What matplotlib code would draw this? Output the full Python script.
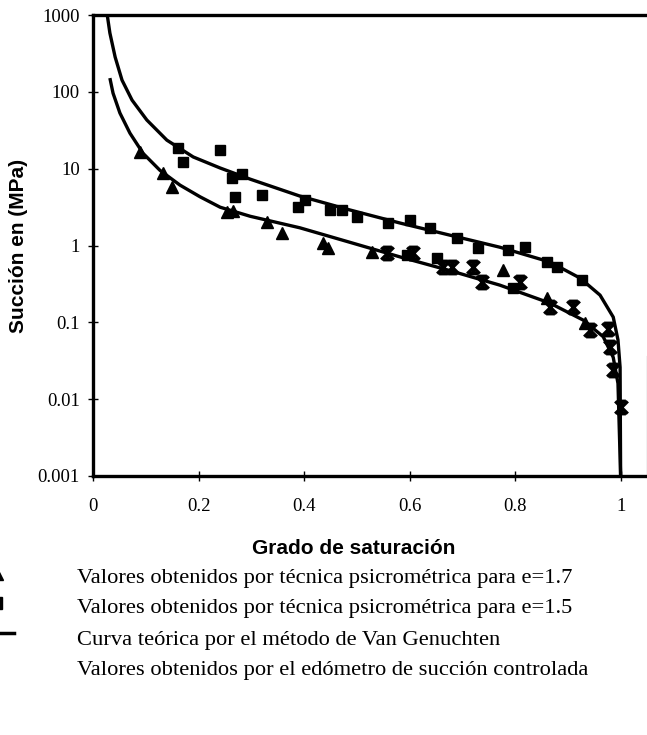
import numpy as np
import matplotlib
matplotlib.use('Agg')
import matplotlib.pyplot as plt
from matplotlib.path import Path
from matplotlib.lines import Line2D

# curvas teoricas (Van Genuchten)
curva_sup_S = [0.027, 0.032, 0.042, 0.055, 0.074, 0.102, 0.140, 0.190, 0.241, 0.298, 0.392, 0.487,
               0.582, 0.677, 0.771, 0.866, 0.923, 0.961, 0.986, 0.995, 0.999, 1.0]
curva_sup_psi = [1000, 583, 283, 142, 78, 43, 23.5, 14.2, 10.2, 7.3, 4.4, 2.9,
                 1.96, 1.36, 0.95, 0.61, 0.377, 0.226, 0.117, 0.059, 0.026, 0.001]
curva_inf_S = [0.032, 0.038, 0.051, 0.070, 0.095, 0.127, 0.165, 0.203, 0.241, 0.298, 0.392, 0.487,
               0.582, 0.677, 0.771, 0.866, 0.929, 0.967, 0.986, 0.995, 1.0]
curva_inf_psi = [151, 96, 53, 29, 15.8, 9.5, 6.1, 4.3, 3.15, 2.4, 1.7, 1.1,
                 0.71, 0.47, 0.305, 0.178, 0.107, 0.065, 0.035, 0.016, 0.001]

# e=1.7 (triangulos)
tri_S = [0.089, 0.133, 0.150, 0.254, 0.265, 0.330, 0.358, 0.436, 0.445, 0.529, 0.777, 0.860, 0.933]
tri_psi = [16.4, 8.8, 5.8, 2.7, 2.8, 2.0, 1.44, 1.07, 0.93, 0.82, 0.48, 0.21, 0.098]

# e=1.5 (cuadrados)
cua_S = [0.161, 0.171, 0.241, 0.263, 0.282, 0.269, 0.320, 0.389, 0.402, 0.449, 0.472, 0.500,
         0.560, 0.600, 0.639, 0.690, 0.730, 0.787, 0.819, 0.860, 0.880, 0.927, 0.652, 0.595, 0.796]
cua_psi = [18.5, 12.2, 17.5, 7.6, 8.5, 4.3, 4.5, 3.2, 3.9, 2.9, 2.9, 2.35,
           1.96, 2.14, 1.68, 1.25, 0.92, 0.87, 0.95, 0.61, 0.53, 0.36, 0.69, 0.75, 0.28]

# edometro de succion controlada (asteriscos)
ast_S = [0.557, 0.607, 0.664, 0.680, 0.720, 0.737, 0.809, 0.866, 0.910, 0.942, 0.976, 0.980, 0.986, 1.0]
ast_psi = [0.79, 0.79, 0.52, 0.52, 0.52, 0.33, 0.33, 0.16, 0.16, 0.079, 0.083, 0.048, 0.024, 0.008]

y_ticks = [0.001, 0.01, 0.1, 1, 10, 100, 1000]
y_labels = ['0.001', '0.01', '0.1', '1', '10', '100', '1000']
x_ticks = [0, 0.2, 0.4, 0.6, 0.8, 1]
x_labels = ['0', '0.2', '0.4', '0.6', '0.8', '1']

leyenda = ['Valores obtenidos por técnica psicrométrica para e=1.7',
           'Valores obtenidos por técnica psicrométrica para e=1.5',
           'Curva teórica por el método de Van Genuchten',
           'Valores obtenidos por el edómetro de succión controlada']

# marcador tipo asterisco de excel
ast_marker = Path([(-1, -1), (1, 1), (-1, 1), (1, -1), (0, -1), (0, 1),
                   (-0.7, 1), (0.7, 1), (-0.7, -1), (0.7, -1)],
                  [Path.MOVETO, Path.LINETO] * 5)

serif = 'Liberation Serif'
sans = 'Liberation Sans'

fig = plt.figure(figsize=(6.47, 7.35), dpi=100)
ax = fig.add_axes([93 / 647, 1 - 476 / 735, 554 / 647, 461 / 735])

ax.plot(curva_sup_S, curva_sup_psi, color='black', lw=2.4, solid_capstyle='butt')
ax.plot(curva_inf_S, curva_inf_psi, color='black', lw=2.4, solid_capstyle='butt')
ax.plot(tri_S, tri_psi, ls='none', marker='^', ms=9, color='black')
ax.plot(cua_S, cua_psi, ls='none', marker='s', ms=7.5, color='black')
ax.plot(ast_S, ast_psi, ls='none', marker=ast_marker, ms=9, mew=2.4, color='black')

ax.set_yscale('log')
ax.set_ylim(0.001, 1000)
ax.set_xlim(0, 1.05)
ax.set_yticks(y_ticks)
ax.set_yticklabels(y_labels, fontfamily=serif, fontsize=13.5)
ax.set_xticks(x_ticks)
ax.set_xticklabels(x_labels, fontfamily=serif, fontsize=13.5)
ax.minorticks_off()
ax.tick_params(direction='inout', length=7, width=1, pad=6)
ax.tick_params(axis='x', pad=12)

for s in ['left', 'bottom', 'top']:
    ax.spines[s].set_linewidth(2.4)
ax.spines['right'].set_linewidth(0.8)
ax.spines['right'].set_bounds(0.001, 0.037)

ax.set_ylabel('Succión en (MPa)', fontfamily=sans, fontweight='bold', fontsize=15)
ax.yaxis.set_label_coords(-0.118, 0.5)
ax.set_xlabel('Grado de saturación', fontfamily=sans, fontweight='bold', fontsize=15)
ax.xaxis.set_label_coords(0.47, -0.136)

# leyenda escrita debajo
ys = [578, 609, 640, 671]
for txt, y in zip(leyenda, ys):
    fig.text(77 / 647, 1 - y / 735, txt, fontfamily=serif, fontsize=16.2, va='center', ha='left')

# simbolos de la leyenda cortados por el borde
fig.add_artist(Line2D([-4 / 647], [1 - 573 / 735], marker='^', ms=10, color='black', transform=fig.transFigure))
fig.add_artist(Line2D([-4 / 647], [1 - 603 / 735], marker='s', ms=8, color='black', transform=fig.transFigure))
fig.add_artist(Line2D([0, 14 / 647], [1 - 633 / 735] * 2, lw=2.5, color='black', transform=fig.transFigure))

fig.savefig('out.png', dpi=100)
